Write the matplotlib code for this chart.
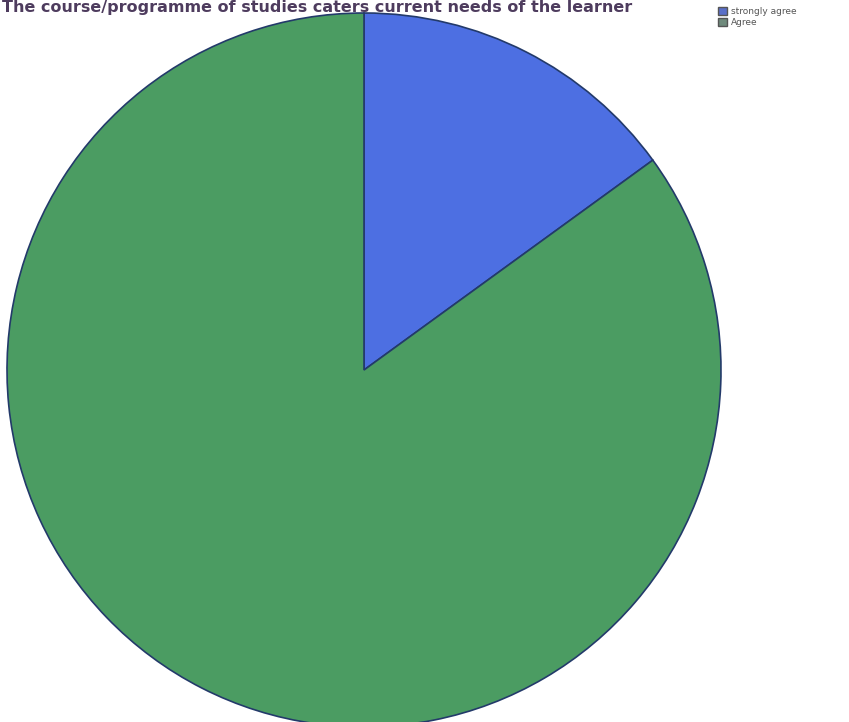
import matplotlib.pyplot as plt
from matplotlib.patches import Patch

title = "The course/programme of studies caters current needs of the learner"
labels = ["strongly agree", "Agree"]
values = [15, 85]
colors = ["#4d6fe2", "#4b9c62"]
legend_colors = ["#5a6fc8", "#6f8a7c"]

W, H = 849, 722
fig = plt.figure(figsize=(W / 100, H / 100), dpi=100)

cx, cy, r = 364, 370, 357
ax = fig.add_axes([(cx - r) / W, (H - cy - r) / H, 2 * r / W, 2 * r / H])
ax.pie(values, colors=colors, startangle=90, counterclock=False,
       wedgeprops=dict(edgecolor="#233a6a", linewidth=1.2))
ax.set_xlim(-1, 1)
ax.set_ylim(-1, 1)
ax.set_aspect("auto")
ax.axis("off")

fig.text(2 / W, 1 - 12 / H, title, fontsize=11.5, fontweight="bold",
         color="#4e3c5e", ha="left", va="baseline")

handles = [Patch(facecolor=c, edgecolor="#555") for c in legend_colors]
fig.legend(handles, labels, loc="upper left", bbox_to_anchor=(712 / W, 1 - 1 / H),
           frameon=False, fontsize=6.5, handlelength=1.0, handleheight=1.0,
           handletextpad=0.4, labelspacing=0.2, borderpad=0.2,
           labelcolor="#555555")

fig.savefig("out.png", dpi=100)
